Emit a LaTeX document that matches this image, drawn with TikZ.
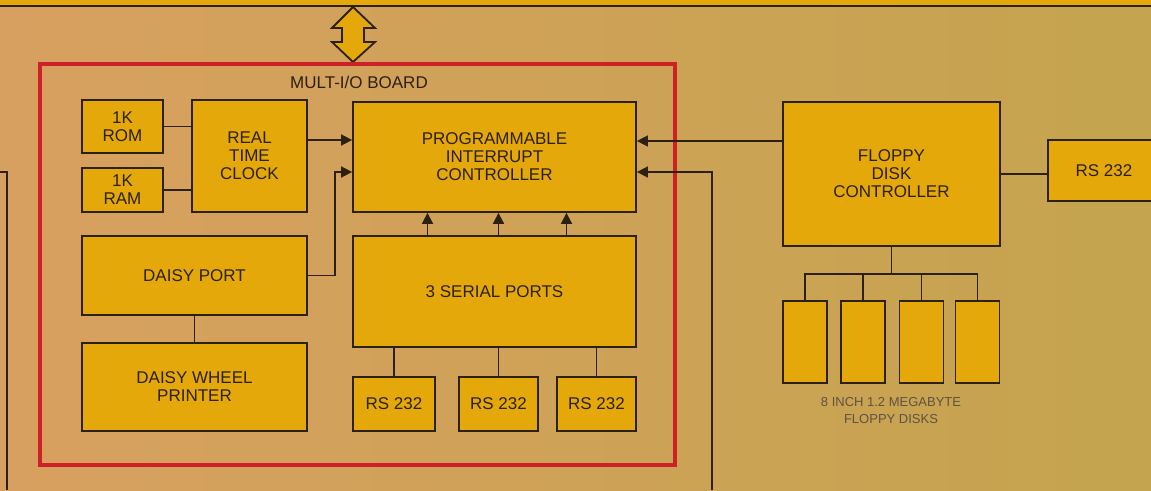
\documentclass[tikz,border=0pt]{standalone}
\usepackage{fontspec}
\setmainfont{Liberation Sans}
\usetikzlibrary{arrows.meta}
\definecolor{fondg}{RGB}{216,160,96}
\definecolor{fondd}{RGB}{196,164,78}
\definecolor{jaune}{RGB}{228,168,10}
\definecolor{rouge}{RGB}{206,32,40}
\definecolor{trait}{RGB}{44,32,16}
\definecolor{gris}{RGB}{96,82,66}

\begin{document}
\begin{tikzpicture}[x=1pt,y=-1pt,
    bloc/.style={draw=trait, line width=1.8pt, fill=jaune, text=trait, align=center,
        inner sep=0pt, font=\fontsize{17}{18}\selectfont},
    lien/.style={draw=trait, line width=1.7pt},
    fleche/.style={lien, -{Triangle[length=11pt,width=11pt]}}]
    \useasboundingbox (0,0) rectangle (1151,490);
    % Fond
    \shade[left color=fondg, right color=fondd] (0,0) rectangle (1151,490);
    \fill[jaune] (0,0) rectangle (1151,6);
    \draw[trait, line width=2pt] (0,6) -- (1151,6);
    % Double fleche du bus
    \filldraw[fill=jaune, draw=trait, line width=1.8pt] (353,7) -- (375,28) -- (364,28) -- (364,42)
        -- (375,42) -- (353,62) -- (332,42) -- (342,42) -- (342,28) -- (332,28) -- cycle;
    % Carte MULT-I/O
    \node[draw=rouge, line width=4pt, minimum width=635pt, minimum height=401pt] (carte) at (357.5,264.5) {};
    \node[text=trait, font=\fontsize{17}{18}\selectfont] (titre) at (359,82) {MULT-I/O BOARD};
    % Memoires et horloge
    \node[bloc, minimum width=81pt, minimum height=53pt] (rom) at (122.5,126.5) {1K\\ROM};
    \node[bloc, minimum width=81pt, minimum height=44pt] (ram) at (122.5,190) {1K\\RAM};
    \node[bloc, minimum width=115pt, minimum height=112pt] (rtc) at (249.5,156) {REAL\\TIME\\CLOCK};
    \node[bloc, minimum width=283pt, minimum height=110pt] (pic) at (494.5,157) {PROGRAMMABLE\\INTERRUPT\\CONTROLLER};
    % Port daisy
    \node[bloc, minimum width=225pt, minimum height=79pt] (dport) at (194.5,275.5) {DAISY PORT};
    \node[bloc, minimum width=225pt, minimum height=88pt] (dwp) at (194.5,387) {DAISY WHEEL\\PRINTER};
    % Ports serie
    \node[bloc, minimum width=283pt, minimum height=111pt] (ser) at (494.5,291.5) {3 SERIAL PORTS};
    \node[bloc, minimum width=82pt, minimum height=54pt] (rsa) at (394,404) {RS 232};
    \node[bloc, minimum width=79pt, minimum height=54pt] (rsb) at (498.5,404) {RS 232};
    \node[bloc, minimum width=79pt, minimum height=54pt] (rsc) at (596.5,404) {RS 232};
    % Controleur de disquettes
    \node[bloc, minimum width=217pt, minimum height=144pt] (fdc) at (891.5,174) {FLOPPY\\DISK\\CONTROLLER};
    \node[bloc, minimum width=112pt, minimum height=61pt] (rsd) at (1104,170.5) {RS 232};
    \foreach \i/\x in {1/805,2/863,3/921.5,4/977.5}
        \node[bloc, minimum width=44pt, minimum height=82pt] (disque\i) at (\x,342) {};
    \node[text=gris, align=center, font=\fontsize{13}{17}\selectfont] (legende) at (891,411)
        {8 INCH 1.2 MEGABYTE\\FLOPPY DISKS};
    % Liaisons
    \draw[lien] (rom.east) -- (rom.east -| rtc.west);
    \draw[lien] (ram.east) -- (ram.east -| rtc.west);
    \draw[fleche] ([yshift=16pt]rtc.east) -- ([yshift=16pt]rtc.east -| pic.west);
    \draw[fleche] (dport.east) -- ++(27,0) |- ([yshift=-15pt]pic.west);
    \draw[lien] (dport.south) -- (dwp.north);
    \foreach \dx in {-67,4,72}
        \draw[fleche] ([xshift=\dx pt]ser.north) -- ([xshift=\dx pt]pic.south);
    \foreach \r in {rsa,rsb,rsc}
        \draw[lien] (\r.north) -- (\r.north |- ser.south);
    \draw[fleche] ([yshift=16pt]pic.east -| fdc.west) -- ([yshift=16pt]pic.east);
    \coordinate (bas) at (712,490);
    \draw[fleche] (bas) |- ([yshift=-15pt]pic.east);
    \draw[lien] (fdc.east) -- (fdc.east -| rsd.west);
    \draw[lien] (fdc.south) -- ++(0,27) coordinate (bus);
    \draw[lien] (disque1.north) |- (bus) -| (disque4.north);
    \foreach \i in {2,3}
        \draw[lien] (disque\i.north) -- (disque\i.north |- bus);
    % Ligne a gauche
    \coordinate (g1) at (0,172);
    \coordinate (g2) at (7,490);
    \draw[lien, line width=1.3pt] (g1) -| (g2);
\end{tikzpicture}
\end{document}
